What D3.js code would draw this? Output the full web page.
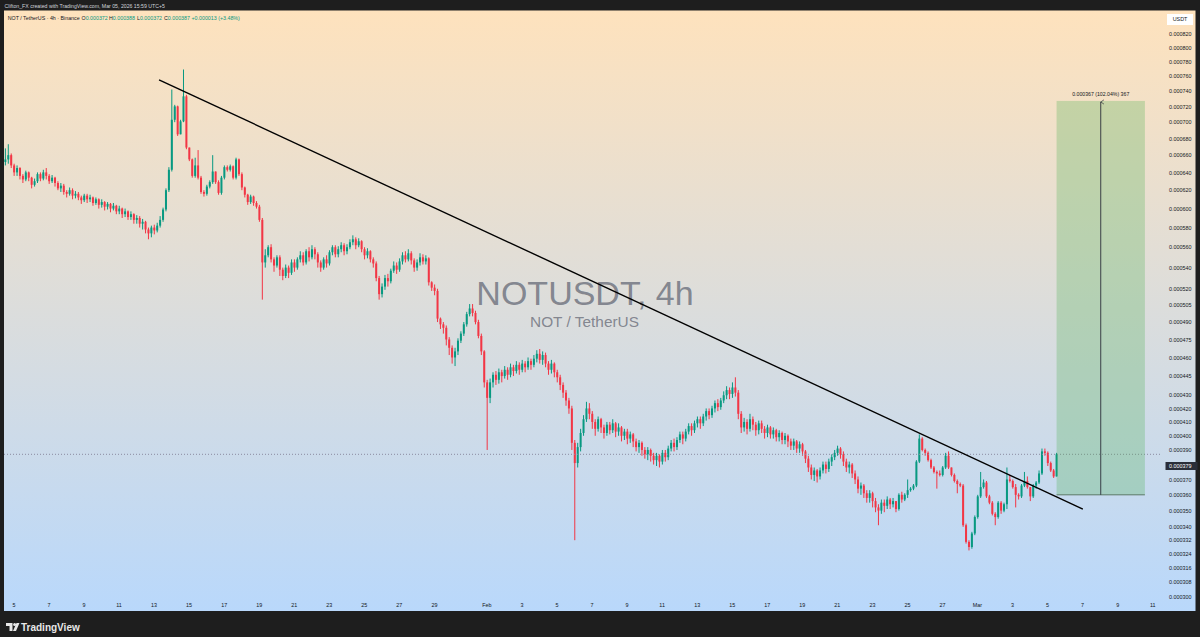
<!DOCTYPE html>
<html><head><meta charset="utf-8">
<script src="https://cdn.jsdelivr.net/npm/d3@7"></script>
<style>
html,body{margin:0;padding:0;background:#1e1e1e;overflow:hidden;}
svg{display:block;font-family:"Liberation Sans",Arial,sans-serif;}
</style></head><body>
<svg id="c" width="1200" height="637"></svg>
<script>
// ---- data (prices in millionths of USDT), 4h candles from Jan 4 13:00 (UTC+5) ----
const firstCandle = "2026-01-04T13:00";
const firstOpen = 652;
const closes = [
655,660,648,640,645,636,632,640,634,626, 630,638,633,640,636,630,634,628,622,625,
618,616,620,614,616,612,609,614,610,612, 606,610,604,607,602,605,600,603,597,600,
594,597,591,594,588,590,584,586,578,574, 580,577,582,588,599,620,643,703,720,685,
701,733,669,655,636,648,634,618,616,624, 629,641,629,617,634,646,643,647,634,655,
638,623,615,607,613,606,602,588,545,552, 560,548,542,550,538,532,540,535,545,540,
548,552,545,556,550,558,553,545,540,548, 544,555,560,553,558,562,556,560,565,568,
562,566,558,552,556,548,544,530,515,522, 530,527,537,542,538,546,552,548,554,547,
540,545,550,546,549,526,521,518,493,488, 485,475,468,460,465,474,480,488,497,502,
498,490,478,465,440,428,440,446,442,448, 445,450,446,452,449,454,450,455,452,457,
454,459,463,458,462,455,450,455,448,444, 438,432,426,420,395,381,392,402,412,420,
416,410,405,412,406,402,408,404,409,403, 406,400,403,398,401,396,392,395,390,387,
390,386,383,386,382,388,385,391,395,392, 397,401,398,403,407,404,409,412,409,414,
418,415,420,424,421,426,430,434,431,436, 432,416,406,410,405,412,408,404,409,405,
402,406,401,404,399,402,397,400,396,393, 396,391,394,389,384,378,373,376,372,376,
380,377,382,385,388,391,387,382,378,380, 374,370,364,366,361,358,361,356,352,350,
355,353,357,354,356,351,360,357,360,363, 364,366,382,398,390,388,383,378,375,374,
373,378,386,378,373,369,367,366,341,331, 328,336,346,359,365,368,359,355,348,346,
355,350,354,370,369,365,360,359,366,369, 365,359,366,368,374,389,388,381,376,372,
387
];
const highs = [
668,673,662,650,648,646,638,642,641,635, 633,640,640,643,645,638,637,635,630,628,
627,620,623,622,619,618,614,616,616,615, 613,612,611,610,608,607,606,606,604,603,
601,600,598,597,595,593,592,589,587,580, 582,583,585,592,601,622,646,742,722,721,
703,769,735,668,656,657,666,636,620,626, 631,660,641,631,636,648,648,649,648,657,
656,640,624,616,615,614,608,604,590,558, 562,563,550,552,552,540,543,542,548,548,
550,556,555,558,560,562,560,555,547,550, 552,557,562,562,561,565,564,563,568,572,
570,569,567,560,559,557,550,546,532,525, 533,534,539,546,545,549,555,556,558,556,
549,548,554,553,552,550,527,524,520,494, 490,487,477,470,468,476,482,490,499,506,
506,500,492,480,466,442,443,448,449,451, 450,453,452,455,454,457,456,458,457,460,
459,462,466,467,465,464,457,458,456,450, 446,440,434,428,422,397,395,405,415,425,
424,418,412,414,413,408,410,410,412,410, 409,407,405,405,403,402,398,397,396,392,
392,391,388,388,387,390,390,393,397,398, 399,403,403,405,409,409,411,414,414,416,
420,420,422,426,427,428,433,437,436,440, 444,434,418,413,412,416,414,410,411,411,
407,408,407,406,405,404,403,402,401,398, 398,397,396,395,390,386,380,378,377,378,
382,382,384,387,390,393,392,389,384,382, 381,376,372,368,367,363,363,362,358,354,
357,357,359,358,358,356,361,362,361,370, 365,367,383,401,399,391,389,384,379,376,
376,379,388,389,378,374,370,368,367,342, 332,337,347,360,375,370,369,360,356,349,
356,356,355,378,373,370,367,361,367,375, 372,365,367,369,376,391,391,389,382,377,
388
];
const lows = [
648,650,645,636,636,632,628,630,630,622, 624,628,630,631,632,627,628,624,620,618,
615,612,614,610,611,609,605,607,606,607, 603,604,600,601,598,599,596,598,594,594,
590,591,588,588,584,584,580,578,574,568, 570,573,575,580,586,597,618,641,700,683,
685,700,667,653,634,634,632,616,613,614, 622,627,627,615,615,632,641,641,632,632,
636,620,612,604,605,603,600,586,510,540, 550,545,536,540,532,528,530,530,533,536,
538,545,542,543,546,548,548,540,536,538, 540,542,552,550,550,555,552,553,558,562,
558,560,555,548,549,545,540,527,510,512, 519,522,525,535,534,536,543,545,546,543,
536,537,542,543,543,523,518,514,490,484, 480,470,462,455,453,462,472,478,486,495,
495,488,476,462,436,390,424,436,438,439, 440,443,442,444,445,447,446,448,448,450,
450,452,456,455,454,452,446,447,444,440, 434,428,422,416,390,332,378,389,400,410,
412,405,400,403,402,398,400,401,402,399, 400,396,397,394,395,392,389,388,386,384,
383,382,380,379,378,380,382,383,389,389, 390,395,394,396,401,400,402,406,405,407,
411,412,413,417,418,419,424,427,427,428, 429,412,402,403,401,403,404,400,401,402,
398,399,398,398,396,396,394,394,392,390, 390,388,388,386,381,375,370,369,368,370,
374,374,375,379,383,386,384,379,375,374, 371,367,361,360,358,355,355,352,349,341,
348,349,351,351,352,349,350,355,356,358, 362,363,365,381,389,386,382,377,374,364,
372,372,377,377,372,368,361,365,340,330, 326,327,335,345,358,364,358,354,347,341,
345,348,349,351,368,364,352,357,358,365, 364,356,358,364,367,373,386,379,375,371,
372
];

const xTickDays = ["2026-01-05","2026-01-07","2026-01-09","2026-01-11","2026-01-13","2026-01-15","2026-01-17",
 "2026-01-19","2026-01-21","2026-01-23","2026-01-25","2026-01-27","2026-01-29","2026-02-01","2026-02-03",
 "2026-02-05","2026-02-07","2026-02-09","2026-02-11","2026-02-13","2026-02-15","2026-02-17","2026-02-19",
 "2026-02-21","2026-02-23","2026-02-25","2026-02-27","2026-03-01","2026-03-03","2026-03-05","2026-03-07",
 "2026-03-09","2026-03-11"];
const xTickLabels = ["5","7","9","11","13","15","17","19","21","23","25","27","29","Feb","3","5","7","9",
 "11","13","15","17","19","21","23","25","27","Mar","3","5","7","9","11"];
const yTicks = [820,800,780,760,740,720,700,680,660,640,620,600,580,560,540,520,505,490,475,460,445,430,
 420,410,400,390,370,360,350,340,332,324,316,308,300];
const lastPrice = 387, labelPrice = 379;
const trendPoints = [{t:"2026-01-13T07:30", p:755}, {t:"2026-03-07T01:00", p:350.9}];
const range = {t0:"2026-03-05T13:00", t1:"2026-03-10T14:00", low:360, high:727, text:"0.000367 (102.04%) 367"};

// ---- layout ----
const svg = d3.select("#c");
const parse = d3.utcParse("%Y-%m-%dT%H:%M");
const parseDay = d3.utcParse("%Y-%m-%d");
const plot = {x0:4, x1:1162, y0:10.5, y1:598};
const x = d3.scaleUtc().domain([parseDay("2026-01-05"), parseDay("2026-03-01")]).range([13.4, 977]);
const y = d3.scaleLog().domain([300, 820]).range([597, 33.5]);
const fmt = v => "0.000" + d3.format("03d")(v);

const defs = svg.append("defs");
const g1 = defs.append("linearGradient").attr("id","bg").attr("x1",0).attr("y1",0).attr("x2",0).attr("y2",1);
g1.append("stop").attr("offset","0%").attr("stop-color","#fee2bd");
g1.append("stop").attr("offset","100%").attr("stop-color","#b9d8fb");
defs.append("clipPath").attr("id","clip").append("rect")
  .attr("x",plot.x0).attr("y",plot.y0).attr("width",plot.x1-plot.x0).attr("height",plot.y1-plot.y0);
const mk = defs.append("marker").attr("id","arr").attr("viewBox","0 0 10 10").attr("refX",5).attr("refY",1)
  .attr("markerWidth",6).attr("markerHeight",6).attr("orient","auto-start-reverse");
mk.append("path").attr("d","M1,7 L5,1 L9,7").attr("fill","none").attr("stroke","#2a2e39").attr("stroke-width",1.2);

svg.append("rect").attr("x",4).attr("y",10.5).attr("width",1191.5).attr("height",600.5).attr("fill","url(#bg)");

// header texts
svg.append("text").attr("x",4.5).attr("y",7.8).attr("font-size",5.2).attr("fill","#d1d4dc")
  .text("Clifton_FX created with TradingView.com, Mar 05, 2026 15:59 UTC+5");
const leg = svg.append("text").attr("x",7.7).attr("y",19.6).attr("font-size",5.3).attr("fill","#131722");
leg.append("tspan").text("NOT / TetherUS · 4h · Binance");
[["O","0.000372",81.5],["H","0.000388",109],["L","0.000372",137],["C","0.000387",164]].forEach(d=>{
  leg.append("tspan").attr("x",d[2]).attr("fill","#131722").text(d[0]);
  leg.append("tspan").attr("fill","#089981").text(d[1]);
});
leg.append("tspan").attr("x",191.5).attr("fill","#089981").text("+0.000013 (+3.48%)");

// watermark
svg.append("text").attr("x",585).attr("y",305).attr("text-anchor","middle").attr("font-size",34)
  .attr("fill","#787b86").attr("fill-opacity",0.9).text("NOTUSDT, 4h");
svg.append("text").attr("x",584.5).attr("y",327).attr("text-anchor","middle").attr("font-size",15.4)
  .attr("fill","#787b86").attr("fill-opacity",0.9).text("NOT / TetherUS");

// candles
const t0 = parse(firstCandle).getTime();
const candles = closes.map((c,i)=>{
  const o = i ? closes[i-1] : firstOpen;
  return {t:new Date(t0 + i*4*3600e3), o, c, h:Math.max(highs[i],o,c), l:Math.min(lows[i],o,c)};
});
const col = d => d.c>=d.o ? "#089981" : "#f23645";
const cg = svg.append("g").attr("clip-path","url(#clip)");
cg.selectAll("rect.w").data(candles).join("rect").attr("class","w")
  .attr("x",d=>x(d.t)-0.5).attr("width",1)
  .attr("y",d=>y(d.h)).attr("height",d=>y(d.l)-y(d.h)).attr("fill",col);
cg.selectAll("rect.b").data(candles).join("rect").attr("class","b")
  .attr("x",d=>x(d.t)-1).attr("width",2)
  .attr("y",d=>y(Math.max(d.o,d.c))).attr("height",d=>Math.max(1,Math.abs(y(d.o)-y(d.c)))).attr("fill",col);

// price line
cg.append("line").attr("x1",plot.x0).attr("x2",plot.x1).attr("y1",y(lastPrice)).attr("y2",y(lastPrice))
  .attr("stroke","#8a8aa0").attr("stroke-width",1).attr("stroke-dasharray","1,2");

// range box
const rx0 = x(parse(range.t0)), rx1 = x(parse(range.t1));
svg.append("rect").attr("x",rx0).attr("y",y(range.high)).attr("width",rx1-rx0).attr("height",y(range.low)-y(range.high))
  .attr("fill","#4caf50").attr("fill-opacity",0.28);
svg.append("line").attr("x1",rx0).attr("x2",rx1).attr("y1",y(range.low)).attr("y2",y(range.low))
  .attr("stroke","#5d7a68").attr("stroke-width",1);
svg.append("line").attr("x1",(rx0+rx1)/2).attr("x2",(rx0+rx1)/2).attr("y1",y(range.low)).attr("y2",y(range.high)+1)
  .attr("stroke","#2a2e39").attr("stroke-width",0.9).attr("marker-end","url(#arr)");
svg.append("text").attr("x",(rx0+rx1)/2).attr("y",y(range.high)-5).attr("text-anchor","middle")
  .attr("font-size",5.2).attr("fill","#131722").text(range.text);

// trend line
svg.append("line").attr("x1",x(parse(trendPoints[0].t))).attr("y1",y(trendPoints[0].p))
  .attr("x2",x(parse(trendPoints[1].t))).attr("y2",y(trendPoints[1].p))
  .attr("stroke","#000").attr("stroke-width",1.4);

// axes
const xa = svg.append("g").attr("transform","translate(0,600)")
  .call(d3.axisBottom(x).tickValues(xTickDays.map(parseDay)).tickFormat((d,i)=>xTickLabels[i]).tickSize(0));
xa.select(".domain").remove();
xa.selectAll("text").attr("font-size",5.4).attr("fill","#131722").attr("font-family","Liberation Sans, Arial").attr("dy","0.71em");
const ya = svg.append("g").attr("transform","translate(1169,0)")
  .call(d3.axisRight(y).tickValues(yTicks).tickFormat(fmt).tickSize(0));
ya.select(".domain").remove();
ya.selectAll("text").attr("font-size",5.4).attr("fill","#131722").attr("font-family","Liberation Sans, Arial").attr("x",0);

// USDT box
svg.append("rect").attr("x",1167).attr("y",14).attr("width",26).attr("height",11).attr("fill","#fff");
svg.append("text").attr("x",1180).attr("y",21.4).attr("text-anchor","middle").attr("font-size",5.4).attr("fill","#131722").text("USDT");

// price label
svg.append("rect").attr("x",1165.5).attr("y",y(labelPrice)-4).attr("width",32).attr("height",8).attr("fill","#2a2e39");
svg.append("text").attr("x",1169).attr("y",y(labelPrice)+2).attr("font-size",5.4).attr("fill","#fff").text(fmt(labelPrice));

// footer logo
const lg = svg.append("g").attr("transform","translate(6,623)").attr("fill","#e8e8e8");
lg.append("path").attr("d","M0,0 H6.5 V8 H3.5 V3 H0 Z");
lg.append("circle").attr("cx",8.6).attr("cy",1.5).attr("r",1.5);
lg.append("path").attr("d","M10.5,0 H13.5 L10,8 H7 Z");
svg.append("text").attr("x",21).attr("y",631).attr("font-size",10).attr("font-weight","bold")
  .attr("fill","#e8e8e8").text("TradingView");
</script></body></html>
